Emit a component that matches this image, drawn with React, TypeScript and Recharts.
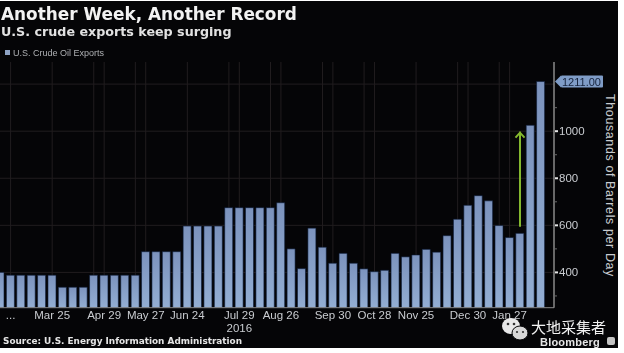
import { BarChart, Bar, XAxis, YAxis, CartesianGrid, ReferenceLine } from 'recharts';

// weekly reports, Feb 2016 to Feb 2017
const weeks = [
  'Feb 19', 'Feb 26', 'Mar 4', 'Mar 11', 'Mar 18', 'Mar 25', 'Apr 1', 'Apr 8', 'Apr 15', 'Apr 22',
  'Apr 29', 'May 6', 'May 13', 'May 20', 'May 27', 'Jun 3', 'Jun 10', 'Jun 17', 'Jun 24', 'Jul 1',
  'Jul 8', 'Jul 15', 'Jul 22', 'Jul 29', 'Aug 5', 'Aug 12', 'Aug 19', 'Aug 26', 'Sep 2', 'Sep 9',
  'Sep 16', 'Sep 23', 'Sep 30', 'Oct 7', 'Oct 14', 'Oct 21', 'Oct 28', 'Nov 4', 'Nov 11', 'Nov 18',
  'Nov 25', 'Dec 2', 'Dec 9', 'Dec 16', 'Dec 23', 'Dec 30', 'Jan 6', 'Jan 13', 'Jan 20', 'Jan 27',
  'Feb 3', 'Feb 10', 'Feb 17',
];
const exportsKbd = [
  400, 388, 388, 388, 388, 388, 337, 337, 337, 388,
  388, 388, 388, 388, 488, 488, 488, 488, 597, 597,
  597, 597, 675, 675, 675, 675, 675, 696, 500, 416,
  588, 507, 439, 481, 439, 415, 403, 409, 481, 466,
  474, 498, 486, 556, 626, 685, 726, 704, 599, 548,
  566, 1025, 1211,
];
const xTicks = ['Feb 26', 'Mar 25', 'Apr 29', 'May 27', 'Jun 24', 'Jul 29', 'Aug 26', 'Sep 30', 'Oct 28', 'Nov 25', 'Dec 30', 'Jan 27'];
const gridWeeks = [
  'Feb 26', 'Mar 25', 'Apr 22', 'Apr 29', 'May 20', 'May 27', 'Jun 24', 'Jul 22', 'Jul 29', 'Aug 19',
  'Aug 26', 'Sep 23', 'Sep 30', 'Oct 21', 'Oct 28', 'Nov 25', 'Dec 23', 'Dec 30', 'Jan 20', 'Jan 27',
];
const yTicks = [300, 400, 500, 600, 700, 800, 900, 1000, 1100, 1211];
const yLabels = [400, 600, 800, 1000];
const gridValues = [400, 600, 800, 1000, 1200];

const data = weeks.map((week, i) => ({ week, value: exportsKbd[i] }));

const XTick = ({ x, y, payload }: any) => (
  <g>
    <text x={x} y={y + 3} textAnchor="middle" fontSize={11.5} fill="#c9ccd0" fontFamily="Liberation Sans">
      {payload.value === 'Feb 26' ? '...' : payload.value}
    </text>
    {payload.value === 'Jul 29' && (
      <text x={x} y={y + 16} textAnchor="middle" fontSize={11.5} fill="#c9ccd0" fontFamily="Liberation Sans">
        2016
      </text>
    )}
  </g>
);

const YTick = ({ x, y, payload }: any) => {
  const v = payload.value;
  if (v === 1211) {
    return (
      <g>
        <polygon points={`${x - 5},${y} ${x + 1},${y - 6} ${x + 1},${y + 6}`} fill="#7f9cc6" />
        <rect x={x + 1} y={y - 6} width={42} height={12} rx={1} fill="#7f9cc6" />
        <text x={x + 2} y={y + 4} fontSize={11} fill="#16233c" fontFamily="Liberation Sans">1211.00</text>
      </g>
    );
  }
  if (!yLabels.includes(v)) {
    return <rect x={x - 5} y={y - 0.5} width={2} height={1} fill="#6a6a6a" />;
  }
  return (
    <g>
      <rect x={x - 5} y={y - 1} width={3} height={2} fill="#e6e6e6" />
      <text x={x - 1} y={y + 4} fontSize={11.5} fill="#c9ccd0" fontFamily="Liberation Sans">{v}</text>
    </g>
  );
};

const Arrow = ({ x1, y1, x2, y2 }: any) => (
  <g>
    <line x1={x1} y1={y1} x2={x2} y2={y2} stroke="#84b82f" strokeWidth={2} />
    <polyline points={`${x2 - 4.5},${y2 + 6} ${x2},${y2 + 1} ${x2 + 4.5},${y2 + 6}`} fill="none" stroke="#84b82f" strokeWidth={2} />
  </g>
);

const overlay = (left: number, top: number, extra: any) => ({
  position: 'absolute' as const,
  left,
  top,
  whiteSpace: 'nowrap' as const,
  lineHeight: 1,
  ...extra,
});

export default function App() {
  return (
    <div style={{ position: 'relative', width: 624, height: 353, background: '#fff', overflow: 'hidden', fontFamily: 'DejaVu Sans' }}>
      <style>{'body{margin:0}'}</style>
      <div style={{ position: 'absolute', left: 0, top: 1, width: 618, height: 347, background: '#050507' }} />
      <div style={{ position: 'absolute', left: 0, top: 0, filter: 'blur(0.4px)' }}>
        <BarChart width={624} height={353} data={data} margin={{ top: 62, right: 0, bottom: 0, left: -5 }} barSize={8}>
          <defs>
            <linearGradient id="barFill" x1="0" y1="0" x2="0" y2="1">
              <stop offset="0%" stopColor="#7c93bd" />
              <stop offset="100%" stopColor="#93aed3" />
            </linearGradient>
          </defs>
          <CartesianGrid stroke="#211d1f" verticalValues={gridWeeks} horizontalValues={gridValues} />
          <XAxis
            dataKey="week"
            ticks={xTicks}
            interval={0}
            height={45.3}
            padding={{ left: 0, right: 8 }}
            tick={<XTick />}
            tickLine={false}
            axisLine={{ stroke: '#8a8a8a' }}
          />
          <YAxis
            orientation="right"
            width={70}
            domain={[250, 1294]}
            ticks={yTicks}
            interval={0}
            tick={<YTick />}
            tickLine={false}
            tickMargin={0}
            axisLine={{ stroke: '#8a8a8a', strokeWidth: 1.5 }}
          />
          <Bar dataKey="value" name="U.S. Crude Oil Exports" fill="url(#barFill)" stroke="#0b1b38" strokeWidth={0.6} isAnimationActive={false} />
          <ReferenceLine
            segment={[{ x: 'Feb 3', y: 594 }, { x: 'Feb 3', y: 998 }]}
            shape={<Arrow />}
          />
        </BarChart>

        <div style={overlay(1, 6, { color: '#f2f2f2', fontSize: 16.9, fontWeight: 700 })}>Another Week, Another Record</div>
        <div style={overlay(1, 26, { color: '#e2e2e2', fontSize: 12.7, fontWeight: 700 })}>U.S. crude exports keep surging</div>
        <div style={{ position: 'absolute', left: 5, top: 50, width: 5, height: 5, background: '#8ea3c4' }} />
        <div style={overlay(13, 49, { color: '#aeb0b3', fontSize: 9, fontFamily: 'Liberation Sans' })}>U.S. Crude Oil Exports</div>
        <div style={overlay(3, 337, { color: '#e6e6e6', fontSize: 8.9, fontWeight: 700 })}>Source: U.S. Energy Information Administration</div>

        <svg width={30} height={28} style={{ position: 'absolute', left: 500, top: 316 }}>
          <ellipse cx={11} cy={10} rx={9} ry={8} fill="#e8e8e8" />
          <ellipse cx={20} cy={17} rx={8} ry={7} fill="#d8d8d8" stroke="#050507" />
          <circle cx={8} cy={8} r={1.3} fill="#333" />
          <circle cx={14} cy={8} r={1.3} fill="#333" />
          <circle cx={17} cy={16} r={1.1} fill="#333" />
          <circle cx={23} cy={16} r={1.1} fill="#333" />
        </svg>
        <div style={overlay(531, 319, { color: '#f2f2f2', fontSize: 15, fontFamily: 'Noto Sans CJK SC' })}>大地采集者</div>
        <div style={overlay(540, 337, { color: '#e6e6e6', fontSize: 11, fontWeight: 700, fontFamily: 'Liberation Sans', letterSpacing: 0.2 })}>Bloomberg</div>
        <div style={{ position: 'absolute', left: 607, top: 337, width: 8, height: 8, background: '#c4c4c4', borderRadius: 2 }} />
      </div>
      <svg width={624} height={353} style={{ position: 'absolute', left: 0, top: 0 }}>
        <text transform="translate(606,185.5) rotate(90)" textAnchor="middle" fontSize={12.5} fill="#c9ccd0" fontFamily="Liberation Sans" letterSpacing={0.6}>
          Thousands of Barrels per Day
        </text>
      </svg>
    </div>
  );
}
